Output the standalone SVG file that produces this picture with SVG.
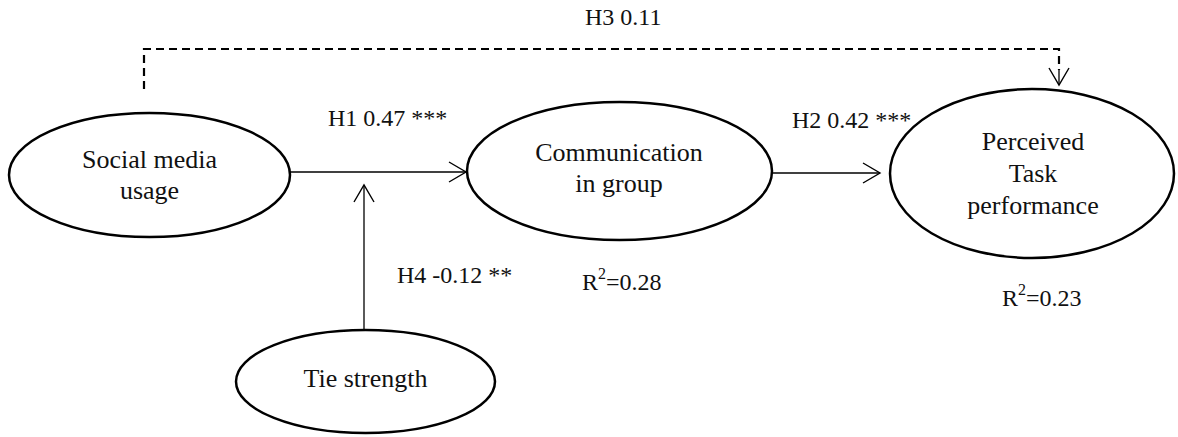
<svg xmlns="http://www.w3.org/2000/svg" width="1178" height="437" viewBox="0 0 1178 437">
<style>
  .node { fill: #fff; stroke: #000; stroke-width: 2.5; }
  .nt { font-family: "Liberation Serif", "Times New Roman", serif; font-size: 26px; fill: #111; text-anchor: middle; }
  .lbl { font-family: "Liberation Serif", "Times New Roman", serif; font-size: 24px; fill: #111; }
  .edge { fill: none; stroke: #000; stroke-width: 1.3; }
  .dash { fill: none; stroke: #000; stroke-width: 2.2; stroke-dasharray: 8 5; }
</style>
<defs>
  <marker id="vhead" markerUnits="userSpaceOnUse" markerWidth="22" markerHeight="24" refX="18" refY="11" orient="auto">
    <path d="M1,1 L18,11 L1,21" fill="none" stroke="#000" stroke-width="1.4" stroke-dasharray="none"/>
  </marker>
</defs>
<rect width="1178" height="437" fill="#fff"/>
<g id="connectors">
  <line class="edge" x1="290" y1="172" x2="466" y2="172" marker-end="url(#vhead)"/>
  <line class="edge" x1="772" y1="173" x2="880" y2="173" marker-end="url(#vhead)"/>
  <line class="edge" x1="364" y1="330" x2="364" y2="185" marker-end="url(#vhead)"/>
  <path class="dash" d="M144,89 V49 H1059 V70"/>
  <line class="edge" x1="1059" y1="70" x2="1059" y2="85" marker-end="url(#vhead)"/>
  <text class="lbl" x="585" y="25">H3 0.11</text>
  <text class="lbl" x="328" y="126">H1 0.47 ***</text>
  <text class="lbl" x="792" y="128">H2 0.42 ***</text>
  <text class="lbl" x="397" y="283">H4 -0.12 **</text>
</g>
<g id="social-media-usage">
  <ellipse class="node" cx="149.5" cy="175" rx="140.5" ry="62"/>
  <text class="nt" x="149.5" y="168">Social media</text>
  <text class="nt" x="149.5" y="199">usage</text>
</g>
<g id="communication-in-group">
  <ellipse class="node" cx="619.5" cy="171" rx="152.5" ry="69"/>
  <text class="nt" x="619" y="161">Communication</text>
  <text class="nt" x="619" y="192">in group</text>
  <text class="lbl" x="582" y="290">R<tspan font-size="16" dy="-11">2</tspan><tspan dy="11">=0.28</tspan></text>
</g>
<g id="perceived-task-performance">
  <ellipse class="node" cx="1032" cy="173.5" rx="142" ry="84.5"/>
  <text class="nt" x="1033" y="150">Perceived</text>
  <text class="nt" x="1033" y="182">Task</text>
  <text class="nt" x="1033" y="214">performance</text>
  <text class="lbl" x="1002" y="306">R<tspan font-size="16" dy="-11">2</tspan><tspan dy="11">=0.23</tspan></text>
</g>
<g id="tie-strength">
  <ellipse class="node" cx="365.5" cy="381.5" rx="129.5" ry="51.5"/>
  <text class="nt" x="365.5" y="387">Tie strength</text>
</g>
</svg>
